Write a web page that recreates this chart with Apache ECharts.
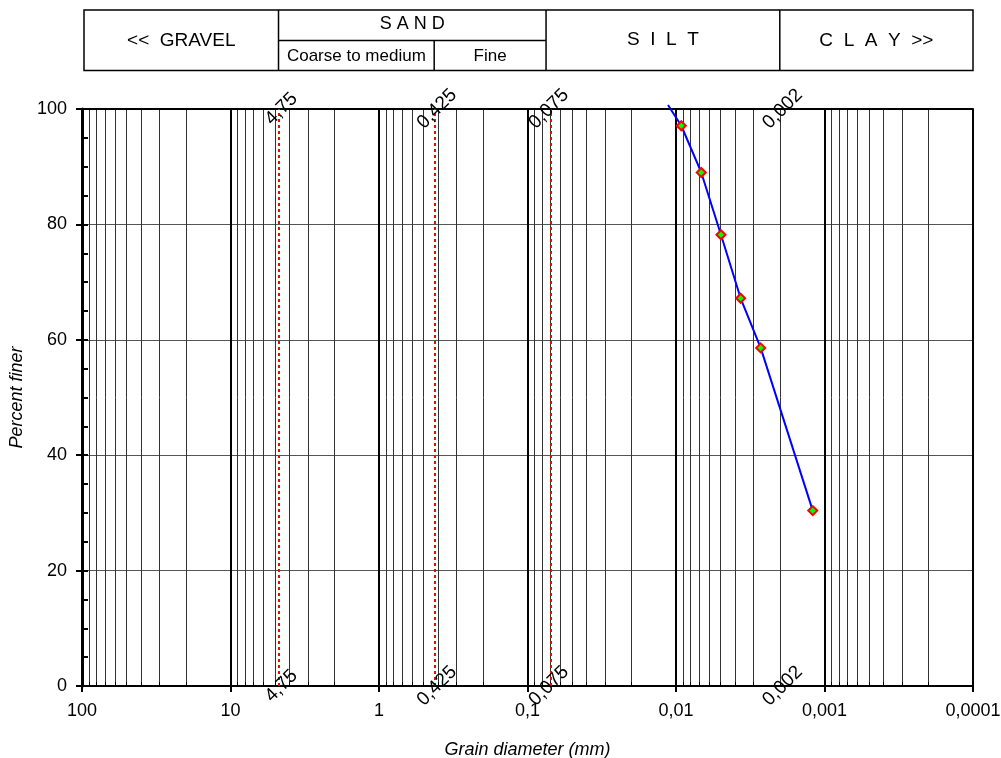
<!DOCTYPE html>
<html>
<head>
<meta charset="utf-8">
<script src="https://cdn.jsdelivr.net/npm/echarts@6/dist/echarts.min.js"></script>
<style>
html, body { margin: 0; padding: 0; background: #fff; }
#chart { width: 1001px; height: 758px; }
</style>
</head>
<body>
<div id="chart"></div>
<script>
// grain size curve (mm, % finer)
var diameters = [0.01132, 0.00921, 0.00676, 0.00498, 0.00367, 0.00269, 0.00120];
var percentFiner = [100.7, 97.1, 89.0, 78.2, 67.2, 58.6, 30.4];
// class limits drawn as red dashed lines
var limits = [4.75, 0.425, 0.075, 0.002];
var xMin = 0.0001, xMax = 100;
var yTicks = [0, 20, 40, 60, 80, 100];

var font = "'Liberation Sans', Arial, sans-serif";

function fmt(v) {
    return String(+(+v).toPrecision(4)).replace('.', ',');
}

// 2..9 in every decade, for the thin grid lines
var minorValues = [];
for (var k = -4; k <= 1; k++) {
    for (var m = 2; m <= 9; m++) {
        minorValues.push(+(m * Math.pow(10, k)).toPrecision(3));
    }
}

var curve = diameters.map(function (d, i) {
    var item = { value: [d, percentFiner[i]] };
    if (i === 0) item.symbol = 'none';
    return item;
});

var limitLabels = [];
limits.forEach(function (v) {
    limitLabels.push([v, yTicks[yTicks.length - 1]]);
    limitLabels.push([v, yTicks[0]]);
});

var myChart = echarts.init(document.getElementById('chart'));

var option = {
    animation: false,
    textStyle: { fontFamily: font },
    grid: { left: 82, right: 28, top: 109, bottom: 72, containLabel: false, outerBoundsMode: 'none' },
    xAxis: [{
        type: 'log',
        logBase: 10,
        min: xMin,
        max: xMax,
        inverse: true,
        splitNumber: 6,
        name: 'Grain diameter (mm)',
        nameLocation: 'middle',
        nameGap: 55,
        nameTextStyle: { fontSize: 18, fontStyle: 'italic', color: '#000', fontFamily: font },
        axisLine: { lineStyle: { color: '#000', width: 2 } },
        axisTick: { show: true, length: 6, lineStyle: { color: '#000', width: 2 } },
        axisLabel: { fontSize: 18, color: '#000', margin: 16, formatter: fmt },
        splitLine: { show: true, lineStyle: { color: '#000', width: 2 } }
    }, {
        type: 'log',
        logBase: 10,
        min: xMin,
        max: xMax,
        inverse: true,
        position: 'bottom',
        axisLine: { show: false },
        axisTick: { show: true, inside: true, length: 4, customValues: minorValues, lineStyle: { color: '#000', width: 1 } },
        axisLabel: { show: false },
        splitLine: { show: true, lineStyle: { color: '#333', width: 1 } }
    }, {
        type: 'log',
        logBase: 10,
        min: xMin,
        max: xMax,
        inverse: true,
        position: 'top',
        axisLine: { show: true, lineStyle: { color: '#000', width: 2 } },
        axisTick: { show: false },
        axisLabel: { show: false },
        splitLine: { show: false }
    }],
    yAxis: [{
        type: 'value',
        min: 0,
        max: 100,
        interval: 20,
        name: 'Percent finer',
        nameLocation: 'middle',
        nameGap: 56,
        nameTextStyle: { fontSize: 18, fontStyle: 'italic', color: '#000', fontFamily: font },
        axisLine: { show: true, lineStyle: { color: '#000', width: 3 } },
        axisTick: { show: true, length: 6, lineStyle: { color: '#000', width: 2 } },
        axisLabel: { fontSize: 18, color: '#000', margin: 15 },
        splitLine: { show: true, lineStyle: { color: '#555', width: 1 } }
    }, {
        type: 'value',
        min: 0,
        max: 100,
        interval: 5,
        position: 'left',
        axisLine: { show: false },
        axisTick: { show: true, inside: true, length: 6, lineStyle: { color: '#000', width: 2 } },
        axisLabel: { show: false },
        splitLine: { show: false }
    }],
    series: [{
        type: 'scatter',
        xAxisIndex: 0,
        yAxisIndex: 0,
        data: limitLabels,
        symbolSize: 0,
        silent: true,
        clip: false,
        z: 5,
        label: {
            show: true,
            position: 'inside',
            rotate: 45,
            offset: [2, 2],
            fontSize: 19,
            color: '#000',
            opacity: 1,
            textBorderWidth: 0,
            textBorderColor: 'transparent',
            fontFamily: font,
            formatter: function (p) { return fmt(p.value[0]); }
        },
        markLine: {
            silent: true,
            symbol: 'none',
            label: { show: false },
            lineStyle: { color: '#ff0000', type: [3, 3], width: 2 },
            data: limits.map(function (v) { return { xAxis: v }; })
        }
    }, {
        type: 'line',
        xAxisIndex: 0,
        yAxisIndex: 0,
        data: curve,
        clip: false,
        z: 6,
        symbol: 'diamond',
        symbolSize: 9,
        lineStyle: { color: '#0000ff', width: 2 },
        itemStyle: { color: '#00ff00', borderColor: '#ff0000', borderWidth: 2 }
    }]
};

myChart.setOption(option);

// soil class header, dividers placed on the class limits
var px = function (v) { return myChart.convertToPixel({ xAxisIndex: 0 }, v); };
var boxL = 84, boxR = px(xMin), boxT = 10, boxB = 70.5, boxM = 40.5;
var xG = px(limits[0]), xF = px(limits[1]), xS = px(limits[2]), xC = px(limits[3]);
var ln = { stroke: '#000', lineWidth: 1.5 };
function seg(x1, y1, x2, y2) {
    return { type: 'line', shape: { x1: x1, y1: y1, x2: x2, y2: y2 }, style: ln, silent: true };
}
function txt(t, cx, cy, size, fam) {
    return {
        type: 'text', x: cx, y: cy, silent: true,
        style: { text: t, fontSize: size, fontFamily: fam || font, fill: '#000', align: 'center', verticalAlign: 'middle' }
    };
}
var narrow = "'Liberation Sans Narrow', 'Arial Narrow', " + font;
myChart.setOption({
    graphic: [
        { type: 'rect', shape: { x: boxL, y: boxT, width: boxR - boxL, height: boxB - boxT }, style: { fill: 'none', stroke: '#000', lineWidth: 1.5 }, silent: true },
        seg(xG, boxT, xG, boxB),
        seg(xS, boxT, xS, boxB),
        seg(xC, boxT, xC, boxB),
        seg(xG, boxM, xS, boxM),
        seg(xF, boxM, xF, boxB),
        txt('<<  GRAVEL', (boxL + xG) / 2, boxM, 19),
        txt('S A N D', (xG + xS) / 2, (boxT + boxM) / 2 - 1, 18),
        txt('Coarse to medium', (xG + xF) / 2, (boxM + boxB) / 2 + 1, 17, narrow),
        txt('Fine', (xF + xS) / 2, (boxM + boxB) / 2 + 1, 17, narrow),
        txt('S  I  L  T', (xS + xC) / 2, boxM - 1, 19),
        txt('C  L  A  Y  >>', (xC + boxR) / 2, boxM, 19)
    ]
});
</script>
</body>
</html>
